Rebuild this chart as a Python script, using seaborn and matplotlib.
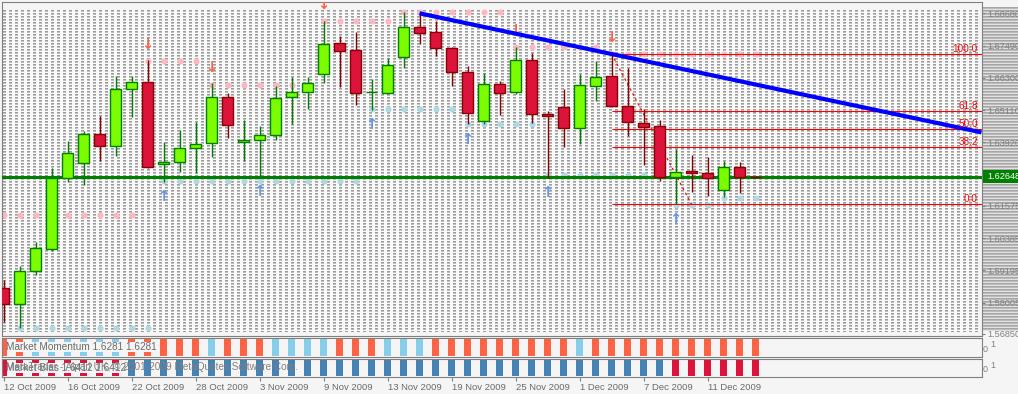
import numpy as np
import pandas as pd
import matplotlib
matplotlib.use("Agg")
import matplotlib.pyplot as plt
from matplotlib import font_manager
from matplotlib.patches import Rectangle
from matplotlib.transforms import blended_transform_factory, ScaledTranslation, IdentityTransform
import seaborn as sns

# ---------------- data (daily bars 12 Oct 2009 .. 16 Dec 2009) ----------------
OPEN = [1.58530, 1.57961, 1.59157, 1.59992, 1.62590, 1.63144, 1.64214, 1.63793, 1.65875, 1.66133,
        1.63129, 1.63181, 1.63697, 1.63882, 1.65580, 1.63919, 1.63993, 1.64177, 1.65580, 1.65764,
        1.66429, 1.67573, 1.67326, 1.65764, 1.65749, 1.67056, 1.68163, 1.67979, 1.67388, 1.66502,
        1.64716, 1.66059, 1.65764, 1.66945, 1.64952, 1.65211, 1.64436, 1.66008, 1.66355, 1.65270,
        1.64620, 1.64509, 1.62649, 1.62848, 1.62775, 1.62147, 1.62996, 1.62656]
HIGH = [1.58836, 1.59353, 1.60228, 1.62981, 1.63967, 1.64336, 1.64889, 1.66366, 1.66366, 1.66956,
        1.63919, 1.64373, 1.64657, 1.66096, 1.65749, 1.64742, 1.64520, 1.66008, 1.66318, 1.66318,
        1.68407, 1.67842, 1.67979, 1.66255, 1.67019, 1.68717, 1.68680, 1.68407, 1.67425, 1.66735,
        1.66465, 1.66181, 1.67447, 1.67204, 1.65074, 1.65875, 1.66440, 1.66920, 1.67204, 1.66650,
        1.65137, 1.64742, 1.63671, 1.63450, 1.63387, 1.63217, 1.63181, 1.62660]
LOW = [1.57275, 1.57053, 1.59010, 1.59907, 1.62465, 1.62343, 1.63229, 1.63424, 1.64842, 1.62959,
       1.62465, 1.62834, 1.62775, 1.63365, 1.64066, 1.63240, 1.62649, 1.64004, 1.64594, 1.65137,
       1.66119, 1.65971, 1.65295, 1.65111, 1.65690, 1.66650, 1.67536, 1.67115, 1.65997, 1.64583,
       1.64594, 1.64926, 1.65690, 1.64620, 1.62601, 1.63756, 1.63856, 1.65454, 1.65233, 1.64162,
       1.63092, 1.62490, 1.61623, 1.62095, 1.61948, 1.61911, 1.62036, 1.62641]
CLOSE = [1.57961, 1.59168, 1.60006, 1.62590, 1.63513, 1.64214, 1.63793, 1.65875, 1.66133, 1.63018,
         1.63181, 1.63697, 1.63867, 1.65580, 1.64546, 1.63993, 1.64177, 1.65543, 1.65764, 1.66096,
         1.67536, 1.67300, 1.65749, 1.65786, 1.66761, 1.68163, 1.67964, 1.67388, 1.66502, 1.64989,
         1.66059, 1.65749, 1.66945, 1.64952, 1.64900, 1.64436, 1.66023, 1.66340, 1.65270, 1.64679,
         1.64495, 1.62649, 1.62834, 1.62786, 1.62590, 1.62996, 1.62649, 1.62648]

NAN = np.nan
RESIST = [1.61224] * 9 + [1.66908] * 4 + [1.66023] * 7 + [1.68385] * 5 + [1.68717] * 7 + \
         [1.67447] * 6 + [1.67178] * 10
SUPPORT = [NAN] + [1.57065] * 9 + [1.62479] * 13 + [1.65137] * 6 + [1.64583] * 5 + \
          [1.62700] * 8 + [1.61616] * 3 + [1.61881] * 3

DOWN_ARROWS = [9, 13, 20, 32, 38]
UP_ARROWS = [10, 16, 23, 29, 34, 42]

CUR_PRICE = 1.62648
TREND_X = [26, 61]
TREND_Y = [1.68680, 1.64300]
FIB_START, FIB_END_DIAG = 38, 43
FIB_HIGH, FIB_LOW = 1.67190, 1.61630
FIB_LEVELS = [0.0, 38.2, 50.0, 61.8, 100.0]

PRICE_TICKS = [1.68680, 1.67490, 1.66300, 1.65110, 1.63920, 1.61575, 1.60385, 1.59195, 1.58005, 1.56850]

# 1 = tomato / crimson, 0 = skyblue / steelblue
MOMENTUM = [1, 1, 0, 0, 0, 0, 0, 0, 1, 1, 1, 1, 1, 0, 1, 1, 1, 0, 0, 0, 0, 1, 1, 1,
            0, 0, 0, 1, 1, 1, 1, 1, 1, 1, 1, 1, 0, 1, 1, 1, 1, 1, 1, 1, 1, 1, 1, 1]
BIAS = [1, 1, 1, 1, 1, 1, 1, 1, 0, 0, 0, 0, 0, 0, 0, 0, 0, 0, 0, 0, 0, 0, 0, 0,
        0, 0, 0, 0, 0, 0, 0, 0, 0, 0, 0, 0, 0, 0, 0, 0, 0, 0, 1, 1, 1, 1, 1, 1]

TICK_POS = [0, 4, 8, 12, 16, 20, 24, 28, 32, 36, 40, 44]
TICK_LABELS = ["12 Oct 2009", "16 Oct 2009", "22 Oct 2009", "28 Oct 2009", "3 Nov 2009", "9 Nov 2009",
               "13 Nov 2009", "19 Nov 2009", "25 Nov 2009", "1 Dec 2009", "7 Dec 2009", "11 Dec 2009"]

MOM_LABEL = "Market Momentum 1.6281 1.6281"
BIAS_LABEL = "Market Bias 1.6412 1.6412"
COPYRIGHT = "MetaTrader - Alpari UK, \u00a9 2001-2009 MetaQuotes Software Corp."

# ---------------- style ----------------
sns.set_theme(style="white")
names = {f.name for f in font_manager.fontManager.ttflist}
if "Liberation Sans Narrow" in names:
    FONT, FS, FS_PRICE = "Liberation Sans Narrow", 7.7, 7.7
else:
    FONT, FS, FS_PRICE = "Liberation Sans", 6.8, 6.6
plt.rcParams["font.family"] = [FONT, "DejaVu Sans"]

W, H = 1018, 394
BG = "#F5F5F5"
GRAY = "#808080"
TXT = "#6A6A6A"
fig = plt.figure(figsize=(W / 100, H / 100), dpi=100, facecolor=BG)


def rect(x0, y0, x1, y1):
    return [x0 / W, (H - y1) / H, (x1 - x0) / W, (y1 - y0) / H]


def pt(px):
    return px * 72.0 / 100.0


def rgb(hx):
    return np.array(matplotlib.colors.to_rgb(hx))


def texture(hh, ww, row_cols, col_period=None, col_on=None, gap="#FAFAFA"):
    img = np.tile(rgb(gap), (hh, ww, 1))
    rows = np.arange(hh) % len(row_cols)
    cmask = (np.arange(ww) % col_period) < col_on if col_period else np.ones(ww, bool)
    for k, col in enumerate(row_cols):
        if col is None:
            continue
        m = (rows[:, None] == k) & cmask[None, :]
        img[m] = rgb(col)
    return img


# background textures (chart grid + price-scale stripes)
ax_bg = fig.add_axes([0, 0, 1, 1], zorder=-5)
ax_bg.imshow(texture(322, 975, ["#9C9C9C", "#BEBEBE", None], 6, 3),
             extent=(3, 978, 332, 10), interpolation="nearest", aspect="auto")
ax_bg.imshow(texture(324, 36, ["#A6A6A6", "#BBBBBB", "#E2E2E2"]),
             extent=(982, 1018, 331, 7), interpolation="nearest", aspect="auto")
ax_bg.set_xlim(0, W)
ax_bg.set_ylim(H, 0)
ax_bg.axis("off")

X0, X1 = -0.075, 61.125
idx = np.arange(len(OPEN))
o, h, l, c = map(np.array, (OPEN, HIGH, LOW, CLOSE))

# ---------------- main price panel ----------------
ax = fig.add_axes(rect(2.3, 2.3, 981.5, 336))
ax.set_facecolor("none")
ax.set_xlim(X0, X1)
ax.set_ylim(1.56769, 1.69086)
for s in ax.spines.values():
    s.set_color(GRAY)
    s.set_linewidth(0.8)

# support / resistance dots
sns.scatterplot(x=idx, y=RESIST, color="#FFB6C1", s=19, linewidth=0, ax=ax, zorder=1, legend=False)
sns.scatterplot(x=idx, y=SUPPORT, color="#ADD8E6", s=19, linewidth=0, ax=ax, zorder=1, legend=False)

# fibonacci retracement
for lvl in FIB_LEVELS:
    price = FIB_LOW + lvl / 100.0 * (FIB_HIGH - FIB_LOW)
    ax.hlines(price, FIB_START, X1, color="#FF0000", lw=0.8, zorder=2)
    ax.annotate(f"{lvl:.1f}", xy=(1.0, price),
                xycoords=blended_transform_factory(ax.transAxes, ax.transData),
                xytext=(pt(-3.5), 0), textcoords="offset points",
                ha="right", va="bottom", color="#FF0000", fontsize=FS + 0.4, zorder=9)
ax.plot([FIB_START, FIB_END_DIAG], [FIB_HIGH, FIB_LOW], color="#FF0000", lw=0.9,
        ls=(0, (2, 2.5)), zorder=4)

# current price line
ax.axhline(CUR_PRICE, color="#008000", lw=2.2, zorder=3)

# candlesticks
bull = c >= o
edge = np.where(bull, "#008000", "#8B0000")
fill = np.where(bull, "#7CFC00", "#DC143C")
ax.vlines(idx, l, h, colors=edge, lw=1.0, zorder=5)
ax.bar(idx, np.abs(c - o), bottom=np.minimum(o, c), width=0.64, color=fill,
       edgecolor=edge, linewidth=1.0, zorder=6)

# fractal arrows
for i in DOWN_ARROWS:
    ax.annotate("\u2193", xy=(i, HIGH[i]), xytext=(0, pt(16)), textcoords="offset points",
                ha="center", va="center", fontsize=10.5, fontweight="bold", color="#FF6347",
                family="DejaVu Sans", zorder=7, annotation_clip=False, clip_on=True)
for i in UP_ARROWS:
    ax.annotate("\u2191", xy=(i, LOW[i]), xytext=(0, pt(-15)), textcoords="offset points",
                ha="center", va="center", fontsize=10.5, fontweight="bold", color="#6495ED",
                family="DejaVu Sans", zorder=7, annotation_clip=False, clip_on=True)

# trend line (ray)
slope = (TREND_Y[1] - TREND_Y[0]) / (TREND_X[1] - TREND_X[0])
ax.plot([TREND_X[0], X1], [TREND_Y[0], TREND_Y[0] + slope * (X1 - TREND_X[0])],
        color="#0000FF", lw=3.0, solid_capstyle="butt", zorder=8)

# price scale
ax.set_xticks([])
ax.yaxis.tick_right()
ax.set_yticks(PRICE_TICKS)
ax.set_yticklabels([f"{v:.5f}" for v in PRICE_TICKS])
ax.tick_params(axis="y", colors=GRAY, length=pt(3), width=0.8, pad=pt(2.5), labelsize=FS_PRICE)
for lab in ax.get_yticklabels():
    lab.set_color(GRAY)

# current price box
yd = ax.transData.transform((0, CUR_PRICE))[1]
fig.add_artist(Rectangle((982.5, yd - 6.5), 40, 13, transform=IdentityTransform(),
                         fc="#008000", ec="none", zorder=10))
fig.text(987, yd, f"{CUR_PRICE:.5f}", transform=IdentityTransform(), ha="left", va="center",
         color="white", fontsize=FS_PRICE, zorder=11)

# ---------------- indicator panels ----------------
def panel(y0, y1, ylim, values, colors, label):
    p = fig.add_axes(rect(2.3, y0, 981.5, y1))
    p.set_facecolor("none")
    p.set_xlim(X0, X1)
    p.set_ylim(*ylim)
    for s in p.spines.values():
        s.set_color(GRAY)
        s.set_linewidth(0.8)
    p.bar(idx, np.ones(len(values)), width=0.42,
          color=[colors[v] for v in values], linewidth=0, zorder=2)
    p.set_yticks([])
    p.annotate(label, xy=(0, 0.5), xycoords="axes fraction", xytext=(pt(4.2), 0),
               textcoords="offset points", ha="left", va="center", color=TXT,
               fontsize=FS + 0.4, zorder=5,
               bbox=dict(boxstyle="square,pad=0", fc=BG, ec="none"))
    bt = blended_transform_factory(p.transAxes, p.transData)
    p.annotate("1", xy=(1.0, 0.67), xycoords=bt, xytext=(pt(8.5), 0), textcoords="offset points",
               ha="left", va="center", color=GRAY, fontsize=FS - 0.3, annotation_clip=False)
    p.annotate("0", xy=(1.0, 0.40), xycoords=bt, xytext=(pt(1.5), 0), textcoords="offset points",
               ha="left", va="center", color=GRAY, fontsize=FS - 0.3, annotation_clip=False)
    return p


p1 = panel(337.8, 356.8, (-0.066, 1.072), MOMENTUM, {1: "#FF6347", 0: "#87CEEB"}, MOM_LABEL)
p1.set_xticks([])
p2 = panel(358.8, 377.3, (-0.081, 1.075), BIAS, {1: "#DC143C", 0: "#4682B4"}, BIAS_LABEL)
p2.annotate(COPYRIGHT, xy=(0, 0.5), xycoords="axes fraction", xytext=(pt(3.7), pt(0.8)),
            textcoords="offset points", ha="left", va="center", color=GRAY,
            fontsize=FS + 0.4, zorder=6)

p2.set_xticks(TICK_POS)
p2.set_xticklabels(TICK_LABELS, ha="left")
p2.tick_params(axis="x", bottom=True, length=pt(3.5), width=0.8, color=GRAY, pad=pt(2),
               labelsize=FS, labelcolor=TXT, direction="out")
for lab in p2.get_xticklabels():
    lab.set_transform(lab.get_transform() + ScaledTranslation(1 / 100, 0, fig.dpi_scale_trans))

fig.savefig("out.png", dpi=100, facecolor=BG)
